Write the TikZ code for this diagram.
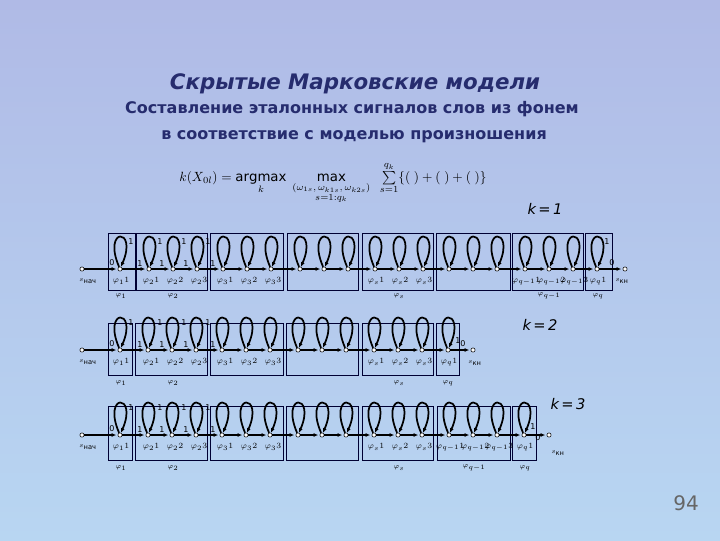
\documentclass[tikz,border=0pt]{standalone}
\usepackage{amsmath}
\usepackage{fontspec}
\setmainfont{DejaVu Sans}
\usetikzlibrary{arrows.meta}
\definecolor{navy}{RGB}{38,44,110}
\tikzset{
  st/.style={circle,draw=black,fill=white,inner sep=0pt,minimum size=3.2pt,line width=0.4pt},
  bx/.style={draw=black!80!blue,line width=0.6pt},
  lp/.style={line width=1.3pt,-{Latex[length=3.5pt,width=3pt]}},
  ln/.style={line width=1.3pt,-{Latex[length=3.5pt,width=3pt]},shorten >=1pt},
  sl/.style={font=\fontsize{6}{6}\selectfont\rmfamily,inner sep=0pt},
  tl/.style={font=\fontsize{6}{6}\selectfont\rmfamily,inner sep=0pt},
  gl/.style={font=\fontsize{5}{5}\selectfont\rmfamily,inner sep=0pt}
}
\newcommand{\hmmrow}[4]{%
  \foreach \xx [count=\i] in {#3} {\node[st] (#1\i) at (\xx,#2) {};}
  \foreach \i in {2,...,#4} {\pgfmathtruncatemacro{\j}{\i-1}\draw[ln] (#1\j) -- (#1\i);}
  \pgfmathtruncatemacro{\last}{#4-1}
  \foreach \i in {2,...,\last} {\draw[lp] (#1\i) .. controls +(-18,-42) and +(18,-42) .. (#1\i);}
}
\begin{document}
\begin{tikzpicture}[x=0.75pt,y=-0.75pt]
\shade[top color={rgb,255:red,176;green,186;blue,230},bottom color={rgb,255:red,184;green,214;blue,242}] (0,0) rectangle (720,540);
\useasboundingbox (0,0) rectangle (720,540);
\node[text=navy] (t1) at (355,84) {\fontsize{16}{19}\selectfont\bfseries\itshape Скрытые Марковские модели};
\node[text=navy] (t2) at (352,109) {\fontsize{12}{14}\selectfont\bfseries Составление эталонных сигналов слов из фонем};
\node[text=navy] (t3) at (354,137) {\fontsize{12}{14}\selectfont\bfseries в соответствие с моделью произношения};
\node (f) at (333,183) {\rmfamily\fontsize{10}{12}\selectfont $k(X_{0l})=\operatorname*{argmax}\limits_{k}\;\max\limits_{\substack{(\omega_{1s},\,\omega_{k1s},\,\omega_{k2s})\\ s=1:q_k}}\;\;\sum\limits_{s=1}^{q_k}\{(\;)+(\;)+(\;)\}$};
\node (k1) at (545,209) {\fontsize{11}{13}\selectfont\itshape k\,=\,1};
\node (k2) at (540,325) {\fontsize{11}{13}\selectfont\itshape k\,=\,2};
\node (k3) at (568,404) {\fontsize{11}{13}\selectfont\itshape k\,=\,3};
\node (pg) at (686,503) {\rmfamily\fontsize{15}{18}\selectfont\color{black!60} 94};

% ---------- row 1
\foreach \a/\b in {108/135,136/207,210/283,287/358,362/433,436/510,512/583,585/612}
  \draw[bx] (\a,233) rectangle (\b,290);
\hmmrow{a}{269}{82,120,149,173,197,223,247,271,300,324,348,375,399,423,449,473,497,525,549,573,597,625}{22}
% ---------- row 2
\foreach \a/\b in {108/132,135/207,210/283,286/358,362/433,436/459}
  \draw[bx] (\a,323) rectangle (\b,375);
\hmmrow{b}{350}{82,120,148,172,196,222,246,270,298,322,346,374,398,422,448,473}{16}
% ---------- row 3
\foreach \a/\b in {108/132,135/207,210/283,286/358,362/433,437/510,512/536}
  \draw[bx] (\a,406) rectangle (\b,460);
\hmmrow{c}{435}{82,120,148,172,196,222,246,270,298,322,346,374,398,422,449,473,497,524,549}{19}

% transition labels
\foreach \r/\y in {a/269,b/350,c/435}{
  \node[tl] at (112,\y-6) {0};
  \node[tl] at (131,\y-27) {1};
  \node[tl] at (140,\y-5) {1};
  \node[tl] at (160,\y-27) {1};
  \node[tl] at (162,\y-5) {1};
  \node[tl] at (184,\y-27) {1};
  \node[tl] at (186,\y-5) {1};
  \node[tl] at (208,\y-27) {1};
  \node[tl] at (213,\y-5) {1};
  \node[gl] at (88,\y+12) {$s_{\text{нач}}$};
}
\node[tl] at (607,242) {1}; \node[tl] at (612,263) {0}; \node[gl] at (622,281) {$s_{\text{кн}}$};
\node[tl] at (458,341) {1}; \node[tl] at (463,344) {0}; \node[gl] at (475,363) {$s_{\text{кн}}$};
\node[tl] at (533,427) {1}; \node[tl] at (538,438) {0}; \node[gl] at (558,453) {$s_{\text{кн}}$};

% state labels
\foreach \y in {281,362,447}{
  \node[sl] at (121,\y) {$\varphi_1 1$};
  \node[sl] at (151,\y) {$\varphi_2 1$}; \node[sl] at (175,\y) {$\varphi_2 2$}; \node[sl] at (199,\y) {$\varphi_2 3$};
  \node[sl] at (225,\y) {$\varphi_3 1$}; \node[sl] at (249,\y) {$\varphi_3 2$}; \node[sl] at (273,\y) {$\varphi_3 3$};
  \node[sl] at (376,\y) {$\varphi_s 1$}; \node[sl] at (400,\y) {$\varphi_s 2$}; \node[sl] at (424,\y) {$\varphi_s 3$};
}
\node[sl] at (526,281) {$\varphi_{q-1}1$}; \node[sl] at (551,281) {$\varphi_{q-1}2$}; \node[sl] at (574,281) {$\varphi_{q-1}3$};
\node[sl] at (598,281) {$\varphi_q 1$};
\node[sl] at (449,362) {$\varphi_q 1$};
\node[sl] at (450,447) {$\varphi_{q-1}1$}; \node[sl] at (475,447) {$\varphi_{q-1}2$}; \node[sl] at (499,447) {$\varphi_{q-1}3$};
\node[sl] at (525,447) {$\varphi_q 1$};

% group labels
\node[gl] at (121,296) {$\varphi_1$}; \node[gl] at (173,296) {$\varphi_2$}; \node[gl] at (399,296) {$\varphi_s$};
\node[gl] at (549,296) {$\varphi_{q-1}$}; \node[gl] at (598,296) {$\varphi_q$};
\node[gl] at (121,383) {$\varphi_1$}; \node[gl] at (173,383) {$\varphi_2$}; \node[gl] at (399,383) {$\varphi_s$}; \node[gl] at (448,383) {$\varphi_q$};
\node[gl] at (121,468) {$\varphi_1$}; \node[gl] at (173,468) {$\varphi_2$}; \node[gl] at (399,468) {$\varphi_s$};
\node[gl] at (474,468) {$\varphi_{q-1}$}; \node[gl] at (525,468) {$\varphi_q$};
\end{tikzpicture}
\end{document}
